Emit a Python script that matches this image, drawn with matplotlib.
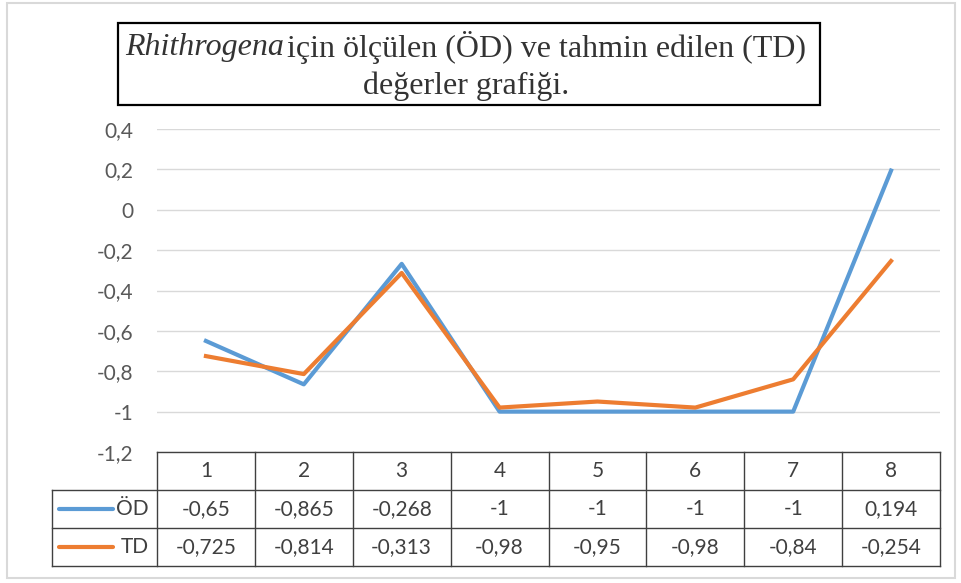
import matplotlib.pyplot as plt
from matplotlib.patches import Rectangle
from matplotlib.ticker import FuncFormatter

kategoriler = [1, 2, 3, 4, 5, 6, 7, 8]
od = [-0.65, -0.865, -0.268, -1, -1, -1, -1, 0.194]
td = [-0.725, -0.814, -0.313, -0.98, -0.95, -0.98, -0.84, -0.254]
od_etiket = ["-0,65", "-0,865", "-0,268", "-1", "-1", "-1", "-1", "0,194"]
td_etiket = ["-0,725", "-0,814", "-0,313", "-0,98", "-0,95", "-0,98", "-0,84", "-0,254"]
seriler = ["ÖD", "TD"]
renkler = ["#5B9BD5", "#ED7D31"]

W, H = 961, 583
fig = plt.figure(figsize=(W / 100, H / 100), dpi=100)

def px(x0, y0, x1, y1):
    # piksel kutusunu figure oranına çevir
    return [x0 / W, 1 - y1 / H, (x1 - x0) / W, (y1 - y0) / H]

# dış çerçeve
fig.patches.append(Rectangle((7 / W, 1 - 578 / H), 948 / W, 575 / H, transform=fig.transFigure,
                             fill=False, edgecolor="#d9d9d9", lw=1.5))

ax = fig.add_axes(px(157, 129, 940, 452))
for s, y, r in zip(seriler, [od, td], renkler):
    ax.plot(kategoriler, y, color=r, lw=3, solid_joinstyle="round", label=s)
ax.set_xlim(0.5, 8.5)
ax.set_ylim(-1.2, 0.4)
ax.set_yticks([-1.2, -1.0, -0.8, -0.6, -0.4, -0.2, 0, 0.2, 0.4])
ax.yaxis.set_major_formatter(FuncFormatter(lambda v, p: ("%g" % round(v, 1)).replace(".", ",")))
ax.set_xticks([])
ax.grid(axis="y", color="#d9d9d9", lw=1)
ax.tick_params(axis="y", length=0, pad=17, labelsize=15, labelcolor="#595959")
for t in ax.get_yticklabels():
    t.set_family("Lato")
for sp in ax.spines.values():
    sp.set_visible(False)

# veri tablosu
tb = fig.add_axes(px(157, 452, 940, 566))
tb.set_xlim(0.5, 8.5)
tb.set_ylim(3, 0)
tb.axis("off")
sol = 0.5 - (157 - 52) / 97.875
kc = "#404040"
tb.plot([0.5, 8.5], [0, 0], color=kc, lw=1, clip_on=False)
for yy in [1, 2, 3]:
    tb.plot([sol, 8.5], [yy, yy], color=kc, lw=1, clip_on=False)
for i in range(9):
    tb.plot([0.5 + i, 0.5 + i], [0, 3], color=kc, lw=1, clip_on=False)
tb.plot([sol, sol], [1, 3], color=kc, lw=1, clip_on=False)

tf = dict(ha="center", va="center", fontsize=15, color="#404040", family="Lato")
for k in kategoriler:
    tb.text(k, 0.5, str(k), **tf)
for r, (et, s, c) in enumerate(zip([od_etiket, td_etiket], seriler, renkler)):
    for k, e in zip(kategoriler, et):
        tb.text(k, 1.5 + r, e, **tf)
    tb.plot([0.5 - 98 / 97.875, 0.5 - 44 / 97.875], [1.5 + r, 1.5 + r], color=c, lw=3,
            solid_capstyle="round", clip_on=False)
    tb.text(0.5 - 8 / 97.875, 1.5 + r, s, ha="right", va="center", fontsize=15,
            color="#404040", family="Lato")

# başlık kutusu
fig.patches.append(Rectangle((118 / W, 1 - 105 / H), (820 - 118) / W, (105 - 23) / H,
                             transform=fig.transFigure, fill=False, edgecolor="black", lw=1.6))
tfs = 23
tc = "#333333"
t1 = fig.text(0, 1 - 47 / H, "Rhithrogena", family="Liberation Serif", style="italic",
              fontsize=tfs, color=tc, va="center")
t2 = fig.text(0, 1 - 47 / H, "için ölçülen (ÖD) ve tahmin edilen (TD)", family="Liberation Serif",
              fontsize=tfs, color=tc, va="center")
rend = fig.canvas.get_renderer()
w1 = t1.get_window_extent(rend).width
w2 = t2.get_window_extent(rend).width
x0 = 466 - (w1 + 3 + w2) / 2
t1.set_x(x0 / W)
t2.set_x((x0 + w1 + 3) / W)
fig.text(466 / W, 1 - 86 / H, "değerler grafiği.", family="Liberation Serif", fontsize=tfs,
         color=tc, ha="center", va="center")

fig.savefig("out.png", dpi=100)
